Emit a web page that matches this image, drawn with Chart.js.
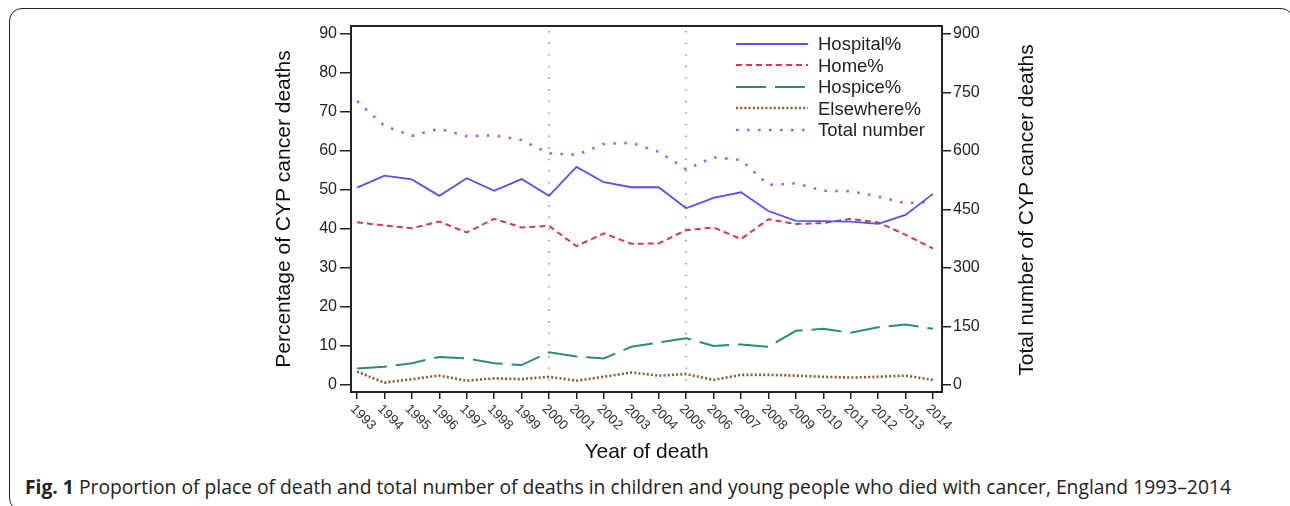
<!DOCTYPE html>
<html><head><meta charset="utf-8">
<script src="https://cdn.jsdelivr.net/npm/chart.js@4.4.1/dist/chart.umd.min.js"></script>
<style>
html,body{margin:0;padding:0;background:#fff;}
body{width:1290px;height:506px;position:relative;overflow:hidden;font-family:"Liberation Sans",Arial,sans-serif;}
#frame{position:absolute;left:9px;top:8px;width:1285px;height:503px;border:1.5px solid #222;border-radius:13px;box-sizing:border-box;}
#wrap{position:absolute;left:0;top:0;width:1290px;height:470px;}
#legend{position:absolute;left:736px;top:33px;}
.row{height:21.5px;display:flex;align-items:center;}
.row svg{width:72px;height:6px;margin-right:10px;display:block}
.row span{font-size:18.5px;color:#222;line-height:21px}
#caption{position:absolute;left:25px;top:474px;font-family:"Open Sans",sans-serif;font-size:19.3px;line-height:26px;color:#222;white-space:nowrap}
</style></head>
<body>
<div id="frame"></div>
<div id="wrap"><canvas id="c" width="1290" height="470"></canvas></div>
<div id="legend"></div>
<div id="caption"><b>Fig. 1</b> Proportion of place of death and total number of deaths in children and young people who died with cancer, England 1993–2014</div>
<script>
const years = [1993,1994,1995,1996,1997,1998,1999,2000,2001,2002,2003,2004,2005,2006,2007,2008,2009,2010,2011,2012,2013,2014];
const hospital  = [50.6,53.7,52.7,48.5,53.0,49.8,52.8,48.5,55.9,52.0,50.7,50.7,45.3,48.0,49.4,44.6,42.1,42.0,41.9,41.3,43.6,49.0];
const home      = [41.7,40.9,40.2,41.9,39.1,42.6,40.4,40.8,35.6,38.9,36.2,36.3,39.7,40.4,37.4,42.5,41.3,41.5,42.6,41.7,38.5,35.0];
const hospice   = [4.2,4.7,5.6,7.2,6.8,5.6,5.1,8.4,7.3,6.8,9.8,10.9,12.0,10.0,10.4,9.8,13.9,14.4,13.4,14.8,15.5,14.4];
const elsewhere = [3.4,0.6,1.5,2.4,1.1,1.7,1.5,2.1,1.1,2.1,3.2,2.4,2.8,1.3,2.6,2.6,2.4,2.1,1.9,2.1,2.4,1.3];
const total     = [728,664,639,657,638,640,628,594,590,618,621,598,553,584,577,513,517,498,497,483,466,470];
const leftTicks  = [0,10,20,30,40,50,60,70,80,90];
const rightTicks = [0,150,300,450,600,750,900];
const markerYears = [2000,2005];
const seriesNames = ['Hospital%','Home%','Hospice%','Elsewhere%','Total number'];
const rightTitle = 'Total number of CYP cancer deaths';

const styles = [
  {color:'#5353f0', dash:[], width:1.8},
  {color:'#d63a4e', dash:[6,4], width:2},
  {color:'#2a8c7c', dash:[30,9], width:2},
  {color:'#8a5a32', dash:[2,2.2], width:2.6},
  {color:'#b35ae8', dash:[2.6,8.4], width:2.6}
];
const seriesData = [hospital, home, hospice, elsewhere, total];
const FAM = '"Liberation Sans", Arial, sans-serif';
Chart.defaults.font.family = FAM;

const datasets = seriesData.map((arr,i)=>({
  label: seriesNames[i],
  data: arr.map((v,j)=>({x:years[j], y:v})),
  borderColor: styles[i].color,
  borderWidth: styles[i].width,
  borderDash: styles[i].dash,
  pointRadius: 0,
  tension: 0,
  fill: false,
  yAxisID: i===4 ? 'y2' : 'y'
}));

const framePlugin = {
  id:'frameDeco',
  beforeDatasetsDraw(chart){
    const {ctx, chartArea:a, scales:{x}} = chart;
    ctx.save();
    ctx.strokeStyle='#9a9a9a'; ctx.lineWidth=1.6; ctx.setLineDash([1.6,10]);
    markerYears.forEach(v=>{const px=Math.round(x.getPixelForValue(v)); ctx.beginPath(); ctx.moveTo(px,a.top+5); ctx.lineTo(px,a.bottom); ctx.stroke();});
    ctx.restore();
  },
  afterDraw(chart){
    const {ctx, chartArea:a, scales:{x, y2}} = chart;
    ctx.save();
    ctx.strokeStyle='#222'; ctx.lineWidth=2; ctx.setLineDash([]);
    ctx.strokeRect(a.left, a.top, a.right-a.left, a.bottom-a.top);
    ctx.fillStyle='#333'; ctx.font='13.5px '+FAM; ctx.textAlign='left'; ctx.textBaseline='top';
    years.forEach(v=>{const px=x.getPixelForValue(v); ctx.save(); ctx.translate(px,402); ctx.rotate(Math.PI/4); ctx.fillText(String(v),0,0); ctx.restore();});
    ctx.fillStyle='#111'; ctx.font='21px '+FAM; ctx.textAlign='center'; ctx.textBaseline='middle';
    ctx.translate(y2.right-12.6, (a.top+a.bottom)/2+1); ctx.rotate(-Math.PI/2); ctx.fillText(rightTitle,0,0);
    ctx.restore();
  }
};

new Chart(document.getElementById('c'), {
  type:'line',
  data:{datasets},
  options:{
    responsive:false, animation:false,
    layout:{padding:{left:272,right:250,top:26,bottom:5}},
    plugins:{legend:{display:false}, tooltip:{enabled:false}},
    scales:{
      x:{type:'linear', min:1992.78, max:2014.33,
        afterBuildTicks:s=>{s.ticks=years.map(v=>({value:v}));},
        ticks:{color:'rgba(0,0,0,0)', autoSkip:false, maxRotation:0, minRotation:0, callback:v=>String(v)},
        grid:{display:true, drawOnChartArea:false, drawTicks:true, tickLength:7, color:'#222', lineWidth:1.5},
        border:{display:false},
        title:{display:true, text:'Year of death', font:{size:21}, color:'#111', padding:0},
        afterFit:s=>{s.height=73;}
      },
      y:{type:'linear', position:'left', min:-1.8, max:92.05,
        afterBuildTicks:s=>{s.ticks=leftTicks.map(v=>({value:v}));},
        ticks:{font:{size:16}, color:'#222', padding:3},
        grid:{drawOnChartArea:false, tickLength:11, color:'#222', lineWidth:1.5},
        border:{display:false},
        title:{display:true, text:'Percentage of CYP cancer deaths', font:{size:21}, color:'#111', padding:0},
        afterFit:s=>{s.width=79;}
      },
      y2:{type:'linear', position:'right', min:-18, max:920.5,
        afterBuildTicks:s=>{s.ticks=rightTicks.map(v=>({value:v}));},
        ticks:{font:{size:16}, color:'#222', padding:2},
        grid:{drawOnChartArea:false, tickLength:9, color:'#222', lineWidth:1.5},
        border:{display:false},
        title:{display:false},
        afterFit:s=>{s.width=98;}
      }
    }
  },
  plugins:[framePlugin]
});

const lg = document.getElementById('legend');
seriesNames.forEach((n,i)=>{
  const st = styles[i];
  const row = document.createElement('div'); row.className='row';
  row.innerHTML = '<svg viewBox="0 0 72 6"><line x1="0" y1="3" x2="72" y2="3" stroke="'+st.color+'" stroke-width="'+st.width+'" stroke-dasharray="'+(st.dash.length?st.dash.join(' '):'none')+'"/></svg><span></span>';
  row.querySelector('span').textContent = n;
  lg.appendChild(row);
});
</script>
</body></html>
